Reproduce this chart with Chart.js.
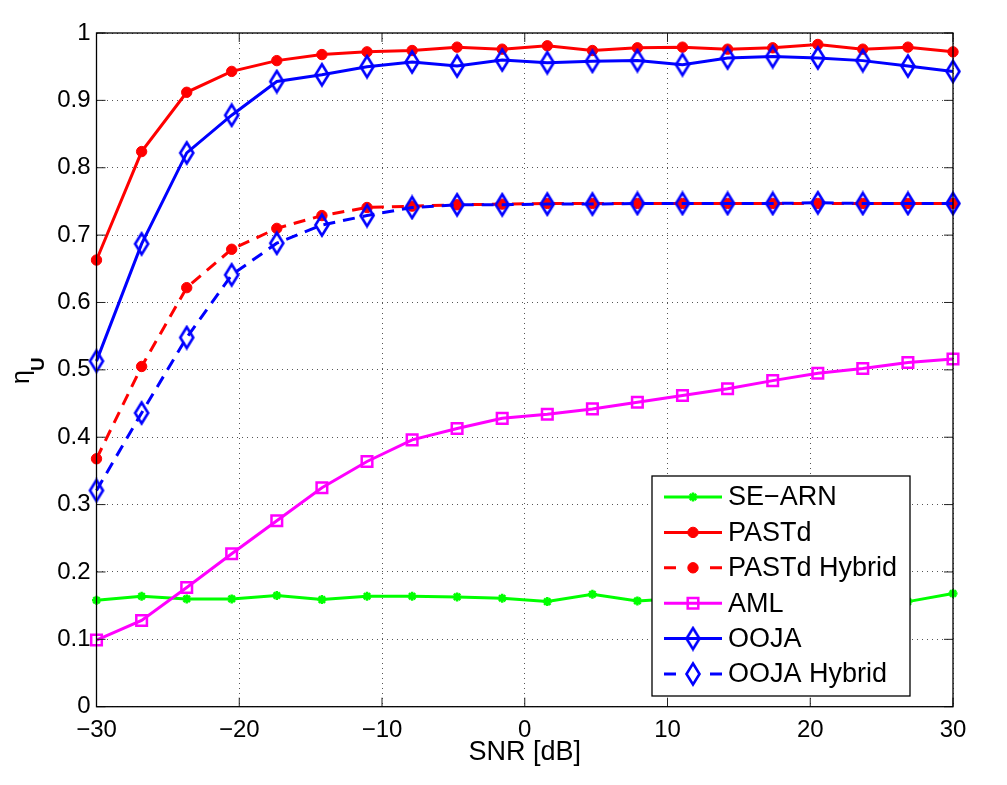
<!DOCTYPE html>
<html>
<head>
<meta charset="utf-8">
<script src="https://cdn.jsdelivr.net/npm/chart.js@4.4.1/dist/chart.umd.min.js"></script>
<style>
  html, body { margin: 0; padding: 0; background: #fff; }
  canvas { display: block; }
</style>
</head>
<body>
<canvas id="myChart" width="1007" height="785" style="width:1007px;height:785px"></canvas>
<script>
const FONT = '"Liberation Sans", Arial, Helvetica, sans-serif';

// SNR in dB, 20 points
const snr = [-30, -26.84, -23.68, -20.53, -17.37, -14.21, -11.05, -7.89, -4.74, -1.58,
             1.58, 4.74, 7.89, 11.05, 14.21, 17.37, 20.53, 23.68, 26.84, 30];

const seArn = [0.158, 0.164, 0.160, 0.160, 0.165, 0.159, 0.164, 0.164, 0.163, 0.161,
               0.156, 0.167, 0.157, 0.161, 0.163, 0.160, 0.162, 0.160, 0.156, 0.168];
const pastd = [0.663, 0.824, 0.912, 0.943, 0.959, 0.968, 0.972, 0.974, 0.979, 0.976,
               0.981, 0.974, 0.978, 0.979, 0.976, 0.978, 0.983, 0.976, 0.979, 0.972];
const pastdHybrid = [0.368, 0.505, 0.622, 0.679, 0.710, 0.729, 0.741, 0.743, 0.745, 0.746,
                     0.747, 0.747, 0.747, 0.747, 0.747, 0.747, 0.747, 0.747, 0.747, 0.747];
const aml = [0.099, 0.128, 0.177, 0.227, 0.276, 0.325, 0.364, 0.396, 0.413, 0.428,
             0.434, 0.442, 0.452, 0.462, 0.472, 0.484, 0.495, 0.502, 0.511, 0.516];
const ooja = [0.513, 0.687, 0.822, 0.878, 0.928, 0.938, 0.950, 0.957, 0.951, 0.960,
              0.956, 0.958, 0.959, 0.953, 0.963, 0.965, 0.963, 0.959, 0.951, 0.943];
const oojaHybrid = [0.321, 0.436, 0.548, 0.641, 0.688, 0.715, 0.729, 0.741, 0.745, 0.745,
                    0.746, 0.746, 0.747, 0.747, 0.747, 0.747, 0.748, 0.747, 0.747, 0.747];

const xTicks = [-30, -20, -10, 0, 10, 20, 30];
const yTicks = [0, 0.1, 0.2, 0.3, 0.4, 0.5, 0.6, 0.7, 0.8, 0.9, 1];
const yTickLabels = ['0', '0.1', '0.2', '0.3', '0.4', '0.5', '0.6', '0.7', '0.8', '0.9', '1'];

const seriesNames = ['SE\u2212ARN', 'PASTd', 'PASTd Hybrid', 'AML', 'OOJA', 'OOJA Hybrid'];

function pairs(ys) {
    return ys.map((y, i) => ({ x: snr[i], y: y }));
}

// MATLAB-like diamond: taller than wide, hollow
function makeDiamond(color) {
    const c = document.createElement('canvas');
    c.width = 18;
    c.height = 26;
    const g = c.getContext('2d');
    g.strokeStyle = color;
    g.lineWidth = 2.6;
    g.lineJoin = 'miter';
    g.beginPath();
    g.moveTo(9, 2.5);
    g.lineTo(15.5, 13);
    g.lineTo(9, 23.5);
    g.lineTo(2.5, 13);
    g.closePath();
    g.stroke();
    return c;
}
const blueDiamond = makeDiamond('#0000ff');

// line/marker style for each series
const styles = [
    { color: '#00ff00', dash: [], pointStyle: 'star', radius: 4.5, pw: 2.5, fill: false },
    { color: '#ff0000', dash: [], pointStyle: 'circle', radius: 5.2, pw: 1, fill: true },
    { color: '#ff0000', dash: [12, 8], pointStyle: 'circle', radius: 5.2, pw: 1, fill: true },
    { color: '#ff00ff', dash: [], pointStyle: 'rect', radius: 7.5, pw: 2.5, fill: false },
    { color: '#0000ff', dash: [], pointStyle: blueDiamond, radius: 9, pw: 2.5, fill: false },
    { color: '#0000ff', dash: [12, 8], pointStyle: blueDiamond, radius: 9, pw: 2.5, fill: false }
];

const allSeries = [seArn, pastd, pastdHybrid, aml, ooja, oojaHybrid];

const datasets = allSeries.map((ys, i) => {
    const s = styles[i];
    return {
        label: seriesNames[i],
        data: pairs(ys),
        borderColor: s.color,
        borderWidth: 3,
        borderDash: s.dash,
        tension: 0,
        fill: false,
        clip: false,
        order: 10 - i,
        pointStyle: s.pointStyle,
        pointRadius: s.radius,
        pointHoverRadius: s.radius,
        pointBorderWidth: s.pw,
        pointBorderColor: s.color,
        pointBackgroundColor: s.fill ? s.color : 'rgba(0,0,0,0)'
    };
});

// box, inner ticks, y title and legend inside the plot
const matlabLook = {
    id: 'matlabLook',
    afterDraw(chart) {
        const ctx = chart.ctx;
        const a = chart.chartArea;
        const xs = chart.scales.x, ys = chart.scales.y;
        ctx.save();

        // inner tick marks
        ctx.strokeStyle = '#222';
        ctx.lineWidth = 1;
        ctx.beginPath();
        xTicks.forEach(v => {
            const px = xs.getPixelForValue(v);
            ctx.moveTo(px, a.bottom); ctx.lineTo(px, a.bottom - 9);
            ctx.moveTo(px, a.top); ctx.lineTo(px, a.top + 9);
        });
        yTicks.forEach(v => {
            const py = ys.getPixelForValue(v);
            ctx.moveTo(a.left, py); ctx.lineTo(a.left + 9, py);
            ctx.moveTo(a.right, py); ctx.lineTo(a.right - 9, py);
        });
        ctx.stroke();

        // axes box
        ctx.strokeStyle = '#000';
        ctx.lineWidth = 1.3;
        ctx.strokeRect(a.left, a.top, a.right - a.left, a.bottom - a.top);

        // y title: eta with subscript U
        ctx.fillStyle = '#000';
        ctx.translate(29, 384);
        ctx.rotate(-Math.PI / 2);
        ctx.textBaseline = 'alphabetic';
        ctx.textAlign = 'left';
        ctx.font = '25px ' + FONT;
        ctx.fillText('\u03b7', 0, 0);
        const w = ctx.measureText('\u03b7').width;
        ctx.font = 'bold 19px ' + FONT;
        ctx.fillText('U', w - 1, 15);
        ctx.setTransform(1, 0, 0, 1, 0, 0);

        // legend
        const lx = 652, ly = 476, lw = 258, lh = 220;
        ctx.fillStyle = '#fff';
        ctx.fillRect(lx, ly, lw, lh);
        ctx.strokeStyle = '#000';
        ctx.lineWidth = 1.3;
        ctx.strokeRect(lx, ly, lw, lh);
        ctx.font = '27px ' + FONT;
        ctx.textBaseline = 'middle';
        seriesNames.forEach((name, i) => {
            const s = styles[i];
            const y = 497 + i * 35.4;
            ctx.strokeStyle = s.color;
            ctx.lineWidth = 3;
            ctx.setLineDash(s.dash.length ? [12, 34] : []);
            ctx.beginPath();
            ctx.moveTo(664, y);
            ctx.lineTo(722, y);
            ctx.stroke();
            ctx.setLineDash([]);
            ctx.lineWidth = s.pw;
            ctx.fillStyle = s.fill ? s.color : 'rgba(0,0,0,0)';
            Chart.helpers.drawPoint(ctx, { pointStyle: s.pointStyle, radius: s.radius, rotation: 0, borderWidth: s.pw }, 693, y);
            ctx.fillStyle = '#000';
            ctx.fillText(name, 728, y + 1);
        });
        ctx.restore();
    }
};

const ctx = document.getElementById('myChart').getContext('2d');

const myChart = new Chart(ctx, {
    type: 'line',
    data: { datasets: datasets },
    plugins: [matlabLook],
    options: {
        responsive: false,
        animation: false,
        devicePixelRatio: 1,
        layout: { padding: { left: 0, right: 54, top: 33, bottom: 0 } },
        plugins: {
            legend: { display: false },
            tooltip: { enabled: false }
        },
        scales: {
            x: {
                type: 'linear',
                min: -30,
                max: 30,
                afterBuildTicks: scale => { scale.ticks = xTicks.map(v => ({ value: v })); },
                afterFit: scale => { scale.height = 78.3; },
                grid: { color: '#555', lineWidth: 1, drawTicks: false },
                border: { display: false, dash: [1, 4] },
                ticks: {
                    padding: 9,
                    color: '#000',
                    font: { family: FONT, size: 24 },
                    maxRotation: 0,
                    callback: v => String(v).replace('-', '\u2212')
                },
                title: {
                    display: true,
                    text: 'SNR [dB]',
                    color: '#000',
                    font: { family: FONT, size: 27 },
                    padding: { top: 0, bottom: 16 }
                }
            },
            y: {
                min: 0,
                max: 1,
                afterBuildTicks: scale => { scale.ticks = yTicks.map(v => ({ value: v })); },
                afterFit: scale => { scale.width = 96.5; },
                grid: { color: '#555', lineWidth: 1, drawTicks: false },
                border: { display: false, dash: [1, 4] },
                ticks: {
                    padding: 6,
                    color: '#000',
                    font: { family: FONT, size: 24 },
                    callback: (v, i) => yTickLabels[i]
                }
            }
        }
    }
});
</script>
</body>
</html>
